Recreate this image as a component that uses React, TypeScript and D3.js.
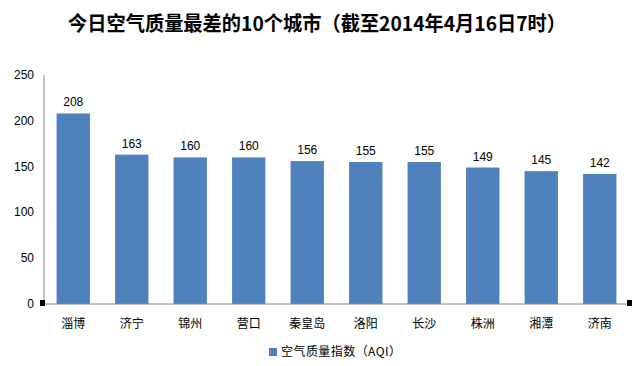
import React from "react";
import * as d3 from "d3";

const categories = ["淄博", "济宁", "锦州", "营口", "秦皇岛", "洛阳", "长沙", "株洲", "湘潭", "济南"];
const aqiValues = [208, 163, 160, 160, 156, 155, 155, 149, 145, 142];
const yTicks = [0, 50, 100, 150, 200, 250];
const seriesName = "空气质量指数（AQI）";
const title = "今日空气质量最差的10个城市（截至2014年4月16日7时）";

export default function App() {
  const W = 642, H = 366;
  const left = 44, right = 629, top = 75, bottom = 304;
  const x = d3.scaleBand<string>().domain(categories).range([left, right]).paddingInner(0.43).paddingOuter(0.215);
  const y = d3.scaleLinear().domain([0, 250]).range([bottom, top]);
  const font = "'Liberation Sans', 'DejaVu Sans', sans-serif";
  const cjk = "'Noto Sans CJK SC', sans-serif";
  return (
    <svg width={W} height={H} style={{ position: "absolute", left: 0, top: 0, background: "#fff" }}>
      <text x={68} y={31} textLength={498} lengthAdjust="spacingAndGlyphs" fontFamily={cjk} fontWeight="bold" fontSize={20} fill="#000">{title}</text>
      {aqiValues.map((v, i) => (
        <g key={i}>
          <rect x={x(categories[i])} y={y(v)} width={x.bandwidth()} height={bottom - y(v)} fill="#4F81BD" />
          <text x={(x(categories[i]) as number) + x.bandwidth() / 2} y={y(v) - 7} textAnchor="middle" fontFamily={font} fontSize={12} fill="#000">{v}</text>
          <text x={(x(categories[i]) as number) + x.bandwidth() / 2} y={bottom + 24} textAnchor="middle" fontFamily={cjk} fontSize={12} fill="#000">{categories[i]}</text>
        </g>
      ))}
      <line x1={left} x2={left} y1={top} y2={bottom} stroke="#868686" strokeWidth={1} />
      <line x1={left} x2={right} y1={bottom} y2={bottom} stroke="#868686" strokeWidth={1} />
      {yTicks.map((t) => (
        <text key={t} x={34} y={y(t) + 4} textAnchor="end" fontFamily={font} fontSize={12} fill="#000">{t}</text>
      ))}
      <rect x={40} y={300} width={5} height={6} fill="#000" />
      <rect x={627} y={300} width={5} height={6} fill="#000" />
      <rect x={269} y={348} width={8} height={8} fill="#4F81BD" />
      <text x={281} y={356} textLength={120} lengthAdjust="spacing" fontFamily={cjk} fontSize={12} fill="#000">{seriesName}</text>
    </svg>
  );
}
